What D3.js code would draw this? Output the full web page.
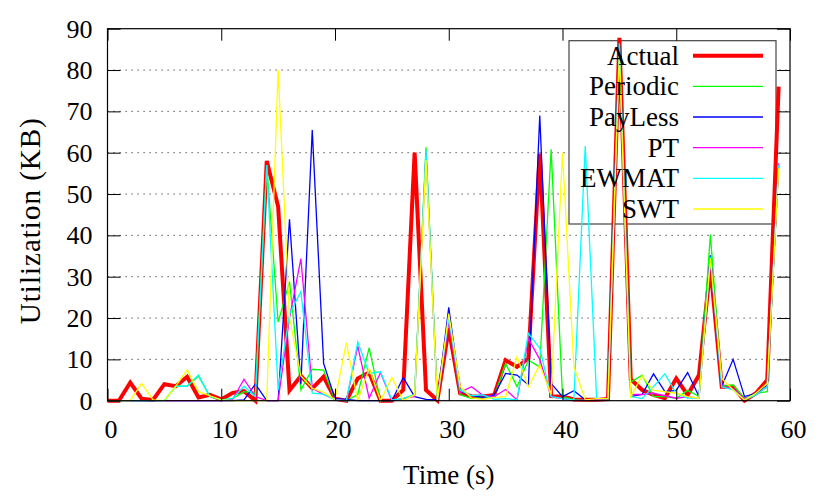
<!DOCTYPE html>
<meta charset="utf-8" />
<script src="https://d3js.org/d3.v7.min.js"></script>
<body style="margin: 0; background: #fff">
  <div id="my_dataviz"></div>

  <script>
    // one sample per second
    var times = [
      0, 1, 2, 3, 4, 5, 6, 7, 8, 9, 10, 11, 12, 13, 14, 15, 16, 17, 18, 19,
      20, 21, 22, 23, 24, 25, 26, 27, 28, 29, 30, 31, 32, 33, 34, 35, 36, 37,
      38, 39, 40, 41, 42, 43, 44, 45, 46, 47, 48, 49, 50, 51, 52, 53, 54, 55,
      56, 57, 58, 59,
    ];

    var actual = [
      0, 0, 4.4, 0.5, 0.2, 4.0, 3.5, 5.8, 0.8, 1.4, 0.3, 1.9, 2.3, 0, 58, 47,
      2.5, 6, 3, 5.8, 0.5, 0, 5.4, 6.8, 0, 0, 2.6, 60, 2.6, 0.1, 17.5, 1.8,
      1.1, 1.0, 1.4, 9.8, 8.2, 10.2, 59.8, 1.1, 1.0, 0.3, 0.2, 0.2, 0.4, 87.8,
      5.2, 2.6, 1.4, 0.6, 5.4, 1.4, 6.2, 32.4, 3.4, 3.4, 0, 1.8, 5, 76,
    ];
    var periodic = [
      0, 0, 0, 0, 0, 0, 3.5, 3.5, 6.0, 1.0, 0.2, 0.5, 2.2, 1.8, 57, 19, 28.8,
      2.6, 7.6, 7.4, 0.2, 0, 1.5, 12.8, 0, 0, 0.5, 1.5, 61.3, 0.2, 20, 1.5,
      0.5, 0.8, 1.0, 9, 3.4, 9.8, 8.2, 60.8, 1, 0.2, 0.2, 0.3, 0.5, 86.5, 4.5,
      6.2, 1, 1, 0.6, 2.5, 1, 40.2, 3.5, 3.8, 0.6, 1.8, 2.2, 57,
    ];
    var payless = [
      0, 0, 0, 0, 0, 0, 0, 0, 0, 0, 0, 0, 0.2, 4.0, 0, 0, 43.9, 4, 65.5, 9,
      0.5, 0.3, 0, 0, 0, 0, 5.6, 1, 0.3, 0.2, 22.6, 2.4, 1.2, 0.8, 1.4, 6.6,
      6.2, 3.8, 69, 4.2, 1, 2.4, 0.2, 0.3, 0.5, 86.5, 1, 1.5, 6.5, 2.2, 2.5,
      6.8, 1, 35.2, 3.5, 10, 1, 1.8, 3.8, 57,
    ];
    var pt = [
      0, 0, 0, 0, 0, 0, 0, 0, 0, 0, 0, 0.3, 5.2, 1.0, 0, 0, 20, 34.4, 3, 1.5,
      0.3, 0, 13.2, 0.6, 6.8, 0, 0.5, 1, 60, 0.2, 19, 2, 3.4, 1.3, 1.0, 2.7,
      0.2, 15, 10, 1, 0.5, 0, 0.2, 0.3, 0.5, 85, 1.5, 1.5, 1.8, 1.2, 0.6, 1,
      0.6, 34, 3.4, 3, 0.5, 1.4, 3.4, 57.4,
    ];
    var ewmat = [
      0, 0, 0, 0, 0, 0, 3.5, 3.5, 6.2, 1.0, 0.2, 0.5, 3.5, 1.0, 57, 2.6, 21,
      26.4, 1.8, 1.6, 0.2, 0, 14.2, 6.6, 7, 0.2, 0.5, 1.5, 60.5, 0.2, 20, 2.6,
      1.2, 1.4, 0.3, 0.5, 0.2, 16.3, 12.7, 1, 0.5, 0.2, 61.6, 0.5, 0.5, 86.5,
      1, 0.5, 3.4, 6.5, 1.8, 0.6, 0.6, 34.8, 3.4, 2.6, 0.2, 1.4, 3.4, 57,
    ];
    var swt = [
      0, 0, 0, 4.2, 0.2, 0, 3.5, 7.4, 2.2, 1.2, 0.2, 0, 0, 0, 0, 80, 20, 6, 3,
      2, 0.3, 14, 0, 7.8, 0, 5.6, 0, 1.4, 58.2, 0.2, 21, 3.5, 0.6, 0.3, 0.8, 1,
      10.6, 3.4, 8.6, 1.5, 60, 8.2, 0.2, 0.5, 0.5, 84, 1, 6, 2.5, 2.2, 1.8, 1,
      0.6, 34.4, 5.4, 2.6, 0.2, 1.8, 4.2, 56.2,
    ];

    var seriesNames = ["Actual", "Periodic", "PayLess", "PT", "EWMAT", "SWT"];
    var seriesValues = [actual, periodic, payless, pt, ewmat, swt];
    var seriesColors = [
      "#ff0000",
      "#00ff00",
      "#0000ff",
      "#ff00ff",
      "#00ffff",
      "#ffff00",
    ];

    var xTicks = [0, 10, 20, 30, 40, 50, 60];
    var yTicks = [0, 10, 20, 30, 40, 50, 60, 70, 80, 90];

    // set the dimensions and margins of the graph
    var margin = { top: 28.7, right: 40, bottom: 97.3, left: 107.5 },
      width = 830 - margin.left - margin.right,
      height = 498 - margin.top - margin.bottom;

    var svg = d3
      .select("#my_dataviz")
      .append("svg")
      .attr("width", width + margin.left + margin.right)
      .attr("height", height + margin.top + margin.bottom)
      .style("font-family", "'Liberation Serif', serif")
      .append("g")
      .attr("transform", "translate(" + margin.left + "," + margin.top + ")");

    var x = d3.scaleLinear().domain([0, 60]).range([0, width]);
    var y = d3.scaleLinear().domain([0, 90]).range([height, 0]);

    // dotted horizontal grid
    svg
      .append("g")
      .selectAll("line")
      .data(yTicks.slice(1, -1))
      .enter()
      .append("line")
      .attr("x1", 0)
      .attr("x2", width)
      .attr("y1", function (d) {
        return y(d);
      })
      .attr("y2", function (d) {
        return y(d);
      })
      .attr("stroke", "#333")
      .attr("stroke-width", 1)
      .attr("stroke-dasharray", "1.2,4.8");

    // legend box (opaque, sits under the data)
    var legX = 569 - margin.left,
      legY = 40.7 - margin.top;
    svg
      .append("rect")
      .attr("x", legX)
      .attr("y", legY)
      .attr("width", 207)
      .attr("height", 183.3)
      .attr("fill", "#fff")
      .attr("stroke", "#444")
      .attr("stroke-width", 1.2);

    // series lines
    var line = d3
      .line()
      .x(function (d, i) {
        return x(times[i]);
      })
      .y(function (d) {
        return y(d);
      });

    seriesValues.forEach(function (vals, k) {
      svg
        .append("path")
        .datum(vals)
        .attr("fill", "none")
        .attr("stroke", seriesColors[k])
        .attr("stroke-width", k === 0 ? 4 : 1.3)
        .attr("d", line);
    });

    // axes (ticks point inward)
    var xAxis = svg
      .append("g")
      .attr("transform", "translate(0," + height + ")")
      .call(
        d3
          .axisBottom(x)
          .tickValues(xTicks)
          .tickSizeInner(-12)
          .tickSizeOuter(0)
          .tickPadding(19)
      );
    xAxis.selectAll("text").attr("dx", 3);

    var yAxis = svg.append("g").call(
      d3
        .axisLeft(y)
        .tickValues(yTicks)
        .tickSizeInner(-13)
        .tickSizeOuter(0)
        .tickPadding(15)
    );

    svg
      .append("g")
      .call(
        d3
          .axisTop(x)
          .tickValues(xTicks)
          .tickSizeInner(-12)
          .tickSizeOuter(0)
          .tickFormat("")
      );
    svg
      .append("g")
      .attr("transform", "translate(" + width + ",0)")
      .call(
        d3
          .axisRight(y)
          .tickValues(yTicks)
          .tickSizeInner(-13)
          .tickSizeOuter(0)
          .tickFormat("")
      );

    svg.selectAll(".domain").remove();
    svg.selectAll(".tick line").attr("stroke", "#000");
    svg
      .selectAll(".tick text")
      .attr("fill", "#000")
      .style("font-family", "'Liberation Serif', serif")
      .style("font-size", "26px");

    // plot border
    svg
      .append("rect")
      .attr("width", width)
      .attr("height", height)
      .attr("fill", "none")
      .attr("stroke", "#000")
      .attr("stroke-width", 1.2);

    // axis titles
    svg
      .append("text")
      .attr("x", width / 2)
      .attr("y", 484 - margin.top)
      .attr("text-anchor", "middle")
      .style("font-size", "27px")
      .text("Time (s)");

    svg
      .append("text")
      .attr(
        "transform",
        "translate(" +
          (40 - margin.left) +
          "," +
          (height / 2 + 6) +
          ")rotate(-90)"
      )
      .attr("text-anchor", "middle")
      .style("font-size", "29px")
      .style("letter-spacing", "1px")
      .text("Utilization (KB)");

    // legend entries
    var legend = svg
      .append("g")
      .selectAll("g")
      .data(seriesNames)
      .enter()
      .append("g")
      .attr("transform", function (d, i) {
        return "translate(0," + (55.7 - margin.top + i * 30.66) + ")";
      });
    legend
      .append("text")
      .attr("x", 679 - margin.left)
      .attr("dy", "0.33em")
      .attr("text-anchor", "end")
      .style("font-size", "27px")
      .text(function (d) {
        return d;
      });
    legend
      .append("line")
      .attr("x1", 693 - margin.left)
      .attr("x2", 763 - margin.left)
      .attr("stroke", function (d, i) {
        return seriesColors[i];
      })
      .attr("stroke-width", function (d, i) {
        return i === 0 ? 4 : 1.3;
      });
  </script>
</body>
